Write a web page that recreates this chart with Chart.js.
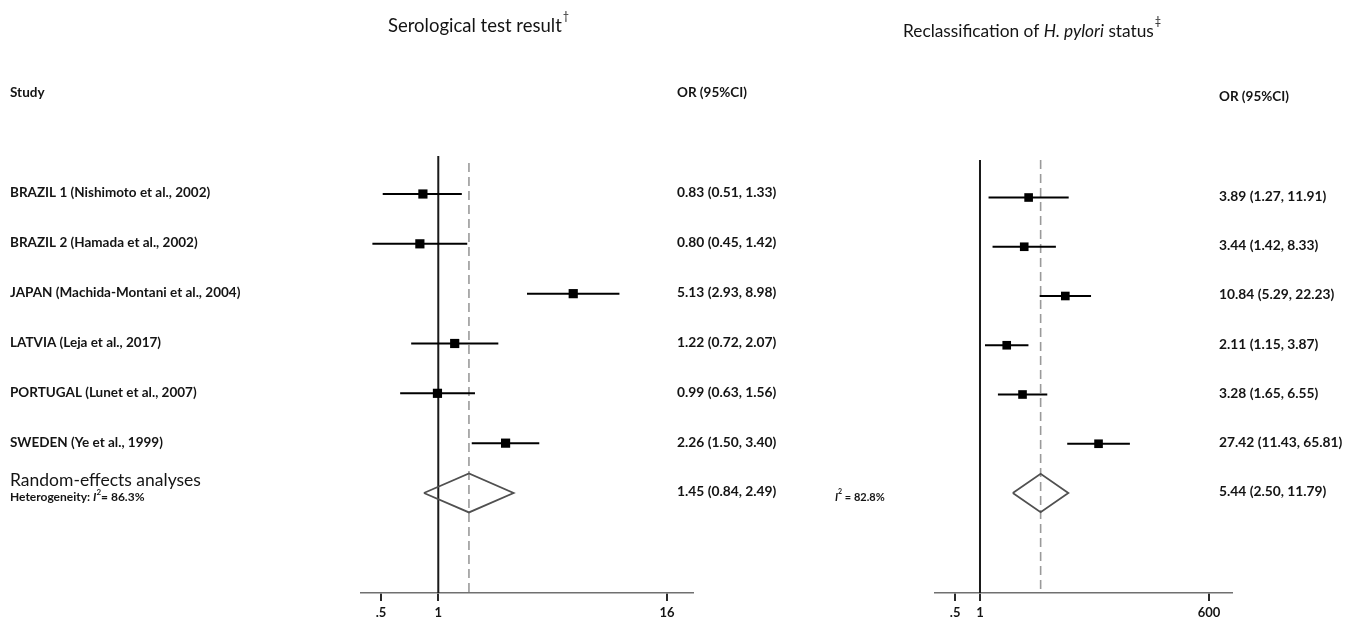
<!DOCTYPE html>
<html>
<head>
<meta charset="utf-8">
<script src="https://cdn.jsdelivr.net/npm/chart.js@4.4.0/dist/chart.umd.min.js"></script>
<style>
	html, body { margin: 0; padding: 0; background: #fff; }
	#wrap { position: relative; width: 1352px; height: 619px; overflow: hidden; }
	#wrap canvas { position: absolute; top: 0; }
</style>
</head>
<body>
<div id="wrap">
	<canvas id="serChart" width="800" height="619" style="left:0"></canvas>
	<canvas id="recChart" width="552" height="619" style="left:800px"></canvas>
</div>
<script>
	// study names (rows, top to bottom)
	var studies = [
		'BRAZIL 1 (Nishimoto et al., 2002)',
		'BRAZIL 2 (Hamada et al., 2002)',
		'JAPAN (Machida-Montani et al., 2004)',
		'LATVIA (Leja et al., 2017)',
		'PORTUGAL (Lunet et al., 2007)',
		'SWEDEN (Ye et al., 1999)'
	];

	// serological test result
	var serOR = [0.83, 0.80, 5.13, 1.22, 0.99, 2.26];
	var serLo = [0.51, 0.45, 2.93, 0.72, 0.63, 1.50];
	var serHi = [1.33, 1.42, 8.98, 2.07, 1.56, 3.40];
	var serPooled = [1.45, 0.84, 2.49];
	var serI2 = '86.3%';
	var serTicks = [0.5, 1, 16];
	var serTickLabels = ['.5', '1', '16'];

	// reclassification of H. pylori status
	var recOR = [3.89, 3.44, 10.84, 2.11, 3.28, 27.42];
	var recLo = [1.27, 1.42, 5.29, 1.15, 1.65, 11.43];
	var recHi = [11.91, 8.33, 22.23, 3.87, 6.55, 65.81];
	var recPooled = [5.44, 2.50, 11.79];
	var recI2 = '82.8%';
	var recTicks = [0.5, 1, 600];
	var recTickLabels = ['.5', '1', '600'];

	var FONT = 'Lato, "Open Sans", sans-serif';
	var INK = '#141414';
	var PLOT_TOP = 150, AXIS_H = 26;
	var LABEL = 'bold 13.5px ' + FONT;
	var VALUE = 'bold 13.8px ' + FONT;

	function fmt(v, lo, hi) {
		return v.toFixed(2) + ' (' + lo.toFixed(2) + ', ' + hi.toFixed(2) + ')';
	}

	function put(ctx, s, x, y, font) {
		ctx.font = font;
		ctx.fillText(s, x, y);
		return x + ctx.measureText(s).width;
	}

	function makePanel(id, p) {
		var canvas = document.getElementById(id);
		var H = canvas.height;
		var bottom = H - AXIS_H;
		var yMin = (PLOT_TOP - p.rowTop) / p.rowStep;
		var yMax = (bottom - p.rowTop) / p.rowStep;
		var n = p.or.length;
		var dRow = n; // pooled row
		var datasets = [];

		datasets.push({
			label: 'est',
			data: p.or.map(function(v, i){ return { x: v, y: i }; }),
			pointStyle: 'rect',
			pointRadius: p.markRadius,
			backgroundColor: '#000',
			borderColor: '#000',
			borderWidth: 0,
			showLine: false
		});
		p.lo.forEach(function(lo, i){
			datasets.push({
				label: 'ci' + i,
				data: [{ x: lo, y: i }, { x: p.hi[i], y: i }],
				showLine: true, pointRadius: 0,
				borderColor: '#000', borderWidth: 2
			});
		});
		datasets.push({
			label: 'pooled',
			data: [
				{ x: p.pooled[1], y: dRow },
				{ x: p.pooled[0], y: dRow - 0.39 },
				{ x: p.pooled[2], y: dRow },
				{ x: p.pooled[0], y: dRow + 0.39 },
				{ x: p.pooled[1], y: dRow }
			],
			showLine: true, pointRadius: 0, tension: 0,
			borderColor: '#505050', borderWidth: 1.8
		});
		datasets.push({
			label: 'pooledLine',
			data: [{ x: p.pooled[0], y: (p.dashTop - p.rowTop) / p.rowStep }, { x: p.pooled[0], y: yMax }],
			showLine: true, pointRadius: 0,
			borderColor: '#9a9a9a', borderWidth: 1.6, borderDash: [9, 5]
		});
		datasets.push({
			label: 'nullLine',
			data: [{ x: 1, y: (p.refTop - p.rowTop) / p.rowStep }, { x: 1, y: yMax }],
			showLine: true, pointRadius: 0,
			borderColor: '#1a1a1a', borderWidth: 2
		});

		var textPlugin = {
			id: 'forestText',
			afterDraw: function(chart) {
				var ctx = chart.ctx;
				var ys = chart.scales.y;
				ctx.save();
				ctx.fillStyle = INK;
				ctx.textBaseline = 'middle';
				ctx.textAlign = 'left';
				p.drawText(ctx, function(r){ return ys.getPixelForValue(r); });
				put(ctx, 'OR (95%CI)', p.orX, p.orHeadY, LABEL);
				for (var i = 0; i < n; i++) {
					put(ctx, fmt(p.or[i], p.lo[i], p.hi[i]), p.orX, ys.getPixelForValue(i) - 1, VALUE);
				}
				put(ctx, fmt(p.pooled[0], p.pooled[1], p.pooled[2]), p.orX, ys.getPixelForValue(dRow) - 1, VALUE);
				ctx.restore();
			}
		};

		return new Chart(canvas.getContext('2d'), {
			type: 'scatter',
			data: { datasets: datasets },
			options: {
				responsive: false,
				animation: false,
				devicePixelRatio: 1,
				events: [],
				layout: { padding: { left: p.padLeft, right: p.padRight, top: PLOT_TOP, bottom: 0 } },
				plugins: { legend: { display: false }, tooltip: { enabled: false } },
				elements: { line: { clip: false } },
				scales: {
					x: {
						type: 'logarithmic',
						min: p.xMin, max: p.xMax,
						afterBuildTicks: function(scale) {
							scale.ticks = p.ticks.map(function(v){ return { value: v }; });
						},
						afterFit: function(scale) { scale.height = AXIS_H; },
						ticks: {
							autoSkip: false, maxRotation: 0, padding: 4,
							color: INK,
							font: { family: FONT, size: 13, weight: 'bold' },
							callback: function(v) {
								var k = p.ticks.indexOf(v);
								return k >= 0 ? p.tickLabels[k] : '';
							}
						},
						grid: { drawOnChartArea: false, drawTicks: true, tickLength: 8, color: '#2a2a2a', lineWidth: 2 },
						border: { display: true, color: '#707070', width: 1.5 }
					},
					y: { type: 'linear', reverse: true, min: yMin, max: yMax, display: false }
				}
			},
			plugins: [textPlugin]
		});
	}

	// left panel
	makePanel('serChart', {
		or: serOR, lo: serLo, hi: serHi, pooled: serPooled,
		ticks: serTicks, tickLabels: serTickLabels,
		xMin: 0.392, xMax: 21.9, padLeft: 361, padRight: 107,
		rowTop: 194, rowStep: 49.83, refTop: 156, dashTop: 163,
		markRadius: 6.5, orX: 677, orHeadY: 93,
		drawText: function(ctx, rowY) {
			var x = put(ctx, 'Serological test result', 388, 26, '18.5px ' + FONT);
			put(ctx, '\u2020', x + 1, 16, '11px ' + FONT);
			put(ctx, 'Study', 10, 93, LABEL);
			studies.forEach(function(s, i){ put(ctx, s, 10, rowY(i) - 1, LABEL); });
			put(ctx, 'Random-effects analyses', 10, 480, '17.5px ' + FONT);
			x = put(ctx, 'Heterogeneity: ', 10, 497, 'bold 12px ' + FONT);
			x = put(ctx, 'I', x, 497, 'italic bold 12px ' + FONT);
			x = put(ctx, '2', x, 492, 'bold 8px ' + FONT);
			put(ctx, '= ' + serI2, x, 497, 'bold 12px ' + FONT);
		}
	});

	// right panel
	makePanel('recChart', {
		or: recOR, lo: recLo, hi: recHi, pooled: recPooled,
		ticks: recTicks, tickLabels: recTickLabels,
		xMin: 0.2846, xMax: 1140, padLeft: 135, padRight: 120,
		rowTop: 197.5, rowStep: 49.25, refTop: 160, dashTop: 160,
		markRadius: 6.1, orX: 419, orHeadY: 97,
		drawText: function(ctx, rowY) {
			var x = put(ctx, 'Reclassification of ', 103, 31, '17.3px ' + FONT);
			x = put(ctx, 'H. pylori', x, 31, 'italic 17.3px ' + FONT);
			x = put(ctx, ' status', x, 31, '17.3px ' + FONT);
			put(ctx, '\u2021', x + 1, 21, '11px ' + FONT);
			x = put(ctx, 'I', 35, 497, 'italic bold 11px ' + FONT);
			x = put(ctx, '2', x, 492, 'bold 7px ' + FONT);
			put(ctx, ' = ' + recI2, x, 497, 'bold 11px ' + FONT);
		}
	});
</script>
</body>
</html>
